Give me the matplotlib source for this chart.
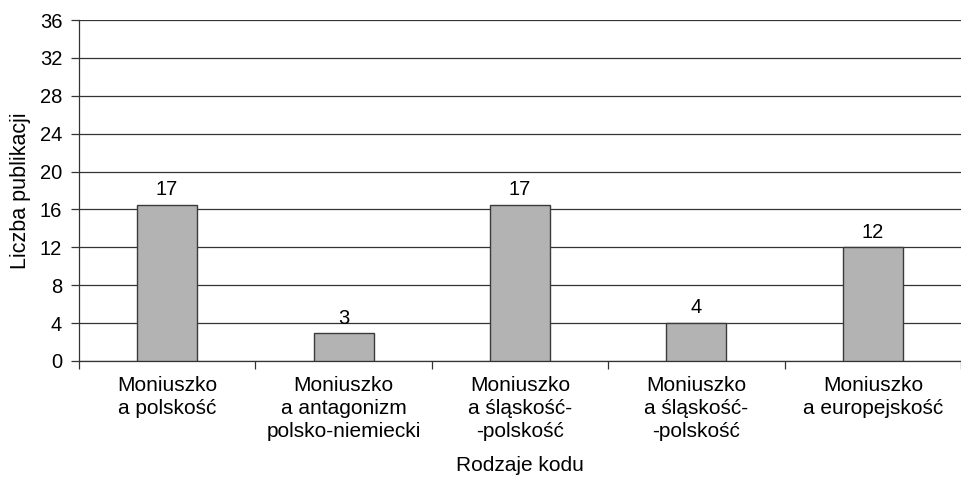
import matplotlib.pyplot as plt
import numpy as np

plt.rcParams['font.family'] = ['Liberation Sans', 'DejaVu Sans']

categories = [
    "Moniuszko\na polskość",
    "Moniuszko\na antagonizm\npolsko-niemiecki",
    "Moniuszko\na śląskość-\n-polskość",
    "Moniuszko\na śląskość-\n-polskość",
    "Moniuszko\na europejskość",
]
values = [16.5, 2.9, 16.5, 4.0, 12.0]
labels = ["17", "3", "17", "4", "12"]
yticks = [0, 4, 8, 12, 16, 20, 24, 28, 32, 36]

fig = plt.figure(figsize=(9.62, 4.78), dpi=100)
ax = fig.add_axes([0.082, 0.245, 0.917, 0.713])

x = np.arange(len(categories))
bars = ax.bar(x, values, width=0.34, color="#b3b3b3", edgecolor="#3a3a3a",
              linewidth=1.0, zorder=3)

for b, lab in zip(bars, labels):
    ax.annotate(lab, (b.get_x() + b.get_width() / 2, b.get_height()),
                xytext=(0, 4), textcoords="offset points",
                ha="center", va="bottom", fontsize=14.5)

ax.set_xlim(-0.5, len(categories) - 0.5)
ax.set_ylim(0, 36)
ax.set_yticks(yticks)
ax.yaxis.grid(True, color="#333333", linewidth=0.9, zorder=0)
ax.tick_params(axis="y", labelsize=14.5, length=6, width=0.9, color="#333333",
               pad=6)

ax.set_xticks(x)
ax.set_xticklabels(categories, fontsize=15, linespacing=1.25)
ax.tick_params(axis="x", which="major", length=0, pad=11)
ax.set_xticks(np.arange(len(categories) + 1) - 0.5, minor=True)
ax.tick_params(axis="x", which="minor", length=6, width=0.9, color="#333333")

for s in ["top", "right"]:
    ax.spines[s].set_visible(False)
for s in ["left", "bottom"]:
    ax.spines[s].set_color("#333333")
    ax.spines[s].set_linewidth(0.9)

ax.set_ylabel("Liczba publikacji", fontsize=15.5, labelpad=6)
ax.set_xlabel("Rodzaje kodu", fontsize=15, labelpad=11)

fig.savefig("out.png", dpi=100)
